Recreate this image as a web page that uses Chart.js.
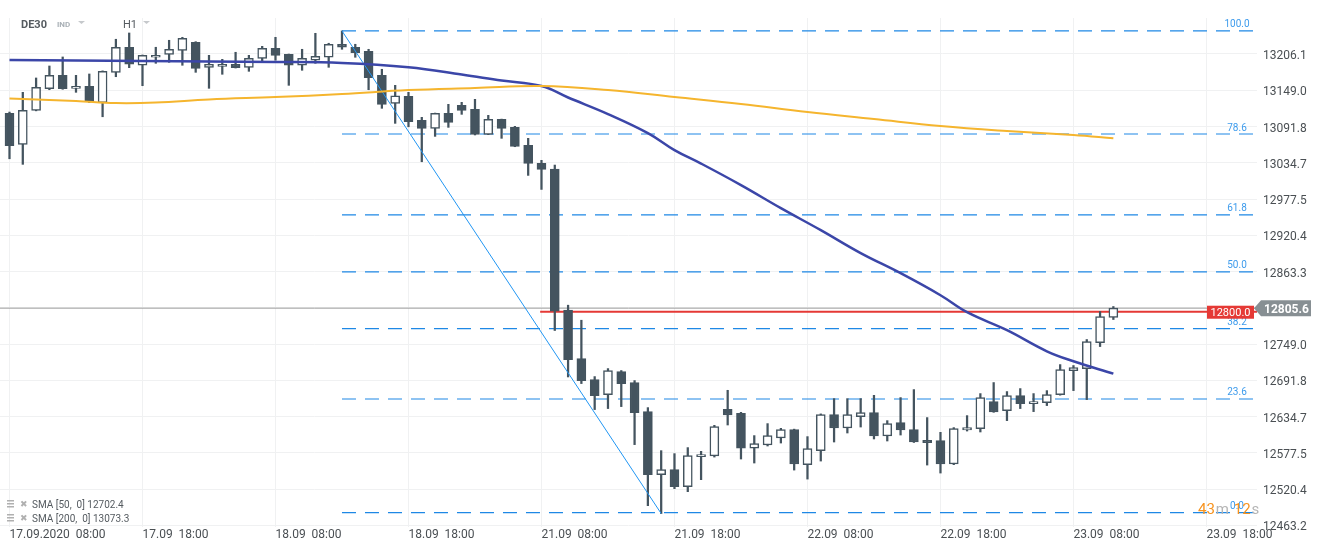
<!DOCTYPE html>
<html>
<head>
<meta charset="utf-8">
<script src="https://cdn.jsdelivr.net/npm/chart.js@4.4.1/dist/chart.umd.min.js"></script>
<style>
  html, body { margin: 0; padding: 0; background: #fff; }
  #wrap { width: 1323px; height: 551px; }
</style>
</head>
<body>
<div id="wrap"><canvas id="chart"></canvas></div>
<script>
// H1 candles, DE30, 17.09.2020 08:00 .. 23.09.2020 07:00
var opens  = [13112.6,13063.7,13117.3,13151.4,13172.5,13152.0,13155.2,13129.3,13177.2,13216.7,
              13188.3,13200.9,13205.6,13211.9,13224.5,13185.1,13186.7,13189.9,13185.1,13199.3,
              13215.1,13205.6,13188.3,13196.2,13200.9,13221.4,13216.7,13210.4,13172.5,13128.4,
              13139.4,13101.5,13088.9,13112.6,13125.2,13118.9,13079.5,13103.1,13090.5,13062.1,
              13033.7,13024.7,12802.4,12726.2,12693.1,12669.5,12705.7,12688.4,12642.6,12543.3,
              12551.2,12524.4,12571.7,12572.8,12646.3,12639.9,12585.2,12590.0,12601.0,12614.2,
              12559.0,12581.1,12637.9,12616.8,12634.8,12641.1,12604.2,12625.3,12614.2,12597.4,
              12596.9,12560.0,12613.6,12615.8,12658.4,12644.2,12667.9,12655.3,12656.8,12669.5,
              12707.3,12710.4,12751.4,12790.9];
var highs  = [13114.6,13145.7,13168.3,13187.2,13201.4,13172.5,13174.6,13179.5,13229.3,13239.2,
              13204.5,13216.7,13227.7,13232.4,13225.5,13204.0,13197.7,13208.8,13204.0,13218.2,
              13232.4,13206.0,13213.5,13238.7,13223.0,13242.4,13221.4,13213.5,13182.0,13156.7,
              13145.7,13106.3,13113.0,13126.8,13129.9,13134.7,13109.4,13103.5,13092.1,13073.2,
              13038.5,13031.1,12810.3,12786.6,12697.8,12710.4,12707.3,12691.5,12648.9,12581.1,
              12576.4,12585.9,12580.0,12621.0,12676.2,12641.5,12604.8,12623.7,12616.3,12615.0,
              12603.2,12639.0,12663.1,12663.1,12663.1,12668.3,12628.4,12664.7,12677.3,12633.2,
              12610.0,12617.4,12636.3,12671.0,12688.4,12674.2,12678.9,12671.0,12675.7,12716.7,
              12715.2,12756.2,12800.3,12808.2];
var lows   = [13041.0,13032.2,13116.5,13149.8,13150.5,13145.7,13129.5,13107.2,13170.3,13184.5,
              13156.1,13191.4,13193.0,13188.3,13177.2,13152.0,13174.1,13184.0,13178.8,13194.6,
              13196.2,13156.7,13180.4,13191.4,13185.1,13213.5,13200.9,13149.8,13120.5,13096.8,
              13091.4,13036.3,13076.3,13090.5,13111.0,13078.5,13079.0,13073.2,13060.0,13014.8,
              12992.7,12770.4,12697.2,12686.8,12645.8,12647.4,12650.5,12590.6,12494.4,12482.0,
              12521.2,12516.5,12535.4,12571.0,12621.5,12567.9,12561.6,12588.4,12593.1,12550.5,
              12536.3,12564.7,12594.7,12608.9,12618.3,12599.5,12596.3,12605.7,12594.0,12558.4,
              12545.8,12559.0,12612.0,12610.5,12641.5,12628.4,12647.4,12642.6,12652.1,12668.5,
              12675.7,12661.5,12745.1,12787.7];
var closes = [13061.5,13117.3,13153.6,13172.5,13151.4,13155.2,13130.9,13178.8,13216.7,13189.9,
              13204.0,13204.0,13213.5,13230.9,13183.5,13189.9,13189.9,13184.5,13199.3,13215.1,
              13204.0,13188.3,13199.3,13202.5,13221.4,13216.7,13208.1,13168.7,13126.8,13140.3,
              13099.3,13088.9,13112.6,13098.4,13117.3,13079.5,13103.1,13088.9,13060.5,13033.7,
              13024.3,12800.8,12724.6,12691.5,12667.9,12707.3,12686.8,12641.1,12543.3,12551.2,
              12524.4,12573.3,12574.8,12618.9,12637.3,12585.2,12592.2,12604.8,12614.2,12560.0,
              12584.3,12637.9,12616.8,12637.9,12641.1,12604.2,12623.7,12613.6,12594.7,12593.8,
              12560.0,12615.8,12617.4,12664.7,12642.0,12667.9,12655.3,12658.4,12669.5,12708.8,
              12712.0,12753.0,12792.4,12805.6];

// moving averages at some candle indexes
var sma50Idx  = [0, 10, 20, 25, 30, 34, 37, 40, 42, 45, 48, 50, 52, 55, 58, 61, 64, 67, 70, 72, 75, 78, 80, 83];
var sma50Val  = [13196.6,13195.0,13193.5,13191.9,13185.1,13173.8,13164.3,13155.6,13137.5,13111.5,13081.5,13054.7,
                 13033.4,12999.5,12963.2,12928.5,12892.3,12860.7,12826.0,12799.2,12770.9,12737.7,12722.0,12702.4];
var sma200Idx = [0, 5, 8, 11, 15, 20, 25, 30, 35, 40, 45, 50, 55, 60, 65, 70, 75, 80, 83];
var sma200Val = [13135.9,13132.0,13128.8,13129.6,13134.4,13138.3,13143.0,13149.3,13152.5,13155.6,13149.3,13138.3,
                 13127.3,13114.6,13103.6,13092.6,13084.7,13078.4,13073.3];

// fibonacci retracement drawn from candle 25 high to candle 49 low
var fibLabels = ['100.0', '78.6', '61.8', '50.0', '38.2', '23.6', '0.0'];
var fibPrices = [13242.4, 13080.0, 12952.5, 12862.9, 12773.3, 12662.5, 12483.4];
var trendIdx  = [25, 49];
var trendVal  = [13242.4, 12482.0];

var alertLevel = 12800.0;
var lastPrice = 12805.6;

var xTickIdx    = [0, 10, 20, 30, 40, 50, 60, 70, 80, 90];
var xTickLabels = ['17.09.2020  08:00', '17.09  18:00', '18.09  08:00', '18.09  18:00', '21.09  08:00',
                   '21.09  18:00', '22.09  08:00', '22.09  18:00', '23.09  08:00', '23.09  18:00'];
var yTickValues = [12463.2, 12520.4, 12577.5, 12634.7, 12691.8, 12749.0, 12806.1, 12863.3,
                   12920.4, 12977.5, 13034.7, 13091.8, 13149.0, 13206.1];
var yTickLabels = ['12463.2', '12520.4', '12577.5', '12634.7', '12691.8', '12749.0', '12806.1', '12863.3',
                   '12920.4', '12977.5', '13034.7', '13091.8', '13149.0', '13206.1'];

var X_MIN = -0.714, X_MAX = 93.8;
var CANDLE = '#44545f';

Chart.defaults.font.family = 'Roboto';

var wickData = [], bodyData = [], bodyFill = [];
for (var i = 0; i < opens.length; i++) {
    wickData.push({x: i, y: [lows[i], highs[i]]});
    bodyData.push({x: i, y: [opens[i], closes[i]]});
    bodyFill.push(closes[i] >= opens[i] ? '#ffffff' : CANDLE);
}
function pts(xs, ys) {
    return xs.map(function(x, k) { return {x: x, y: ys[k]}; });
}

var datasets = [];
fibPrices.forEach(function(p) {
    datasets.push({
        type: 'line', data: [{x: 25, y: p}, {x: 93.5, y: p}],
        borderColor: '#1e88e5', borderWidth: 1.2, borderDash: [14, 9],
        pointRadius: 0, order: 5
    });
});
datasets.push({
    type: 'line', data: [{x: X_MIN, y: lastPrice}, {x: X_MAX, y: lastPrice}],
    borderColor: '#9e9e9e', borderWidth: 1, pointRadius: 0, order: 4
});
datasets.push({
    type: 'line', data: [{x: 39.9, y: alertLevel}, {x: X_MAX, y: alertLevel}],
    borderColor: '#e53935', borderWidth: 2, pointRadius: 0, order: 4
});
datasets.push({
    type: 'bar', data: wickData, backgroundColor: CANDLE, borderWidth: 0,
    barThickness: 1.6, grouped: false, order: 3
});
datasets.push({
    type: 'bar', data: bodyData, backgroundColor: bodyFill, borderColor: CANDLE,
    borderWidth: 1.5, borderSkipped: false, barThickness: 9, minBarLength: 2,
    grouped: false, order: 2
});
datasets.push({
    type: 'line', data: pts(trendIdx, trendVal), borderColor: '#2196f3',
    borderWidth: 1, pointRadius: 0, order: 1
});
datasets.push({
    type: 'line', data: pts(sma200Idx, sma200Val), borderColor: '#f5b52e',
    borderWidth: 2, pointRadius: 0, tension: 0.4, order: 0
});
datasets.push({
    type: 'line', data: pts(sma50Idx, sma50Val), borderColor: '#3b46a8',
    borderWidth: 2.5, pointRadius: 0, tension: 0.4, order: 0
});

var overlay = {
    id: 'overlay',
    afterDraw: function(chart) {
        var ctx = chart.ctx, xs = chart.scales.x, ys = chart.scales.y;
        ctx.save();
        ctx.textBaseline = 'middle';

        // fib level labels
        ctx.font = '10px Roboto';
        ctx.fillStyle = '#3d9bec';
        ctx.textAlign = 'center';
        fibPrices.forEach(function(p, k) {
            ctx.fillText(fibLabels[k], 1237, ys.getPixelForValue(p) - 6);
        });

        // countdown
        ctx.textAlign = 'left';
        ctx.font = '15px Roboto';
        var cy = 510, cx = 1198;
        [['43', '#f7931e'], ['m', '#b5b5b5'], [' 12', '#f7931e'], ['s', '#b5b5b5']].forEach(function(t) {
            ctx.fillStyle = t[1];
            ctx.fillText(t[0], cx, cy);
            cx += ctx.measureText(t[0]).width + 1;
        });

        // red alert label
        var ry = ys.getPixelForValue(alertLevel);
        ctx.fillStyle = '#e53935';
        ctx.fillRect(1207, ry - 6, 47, 13);
        ctx.fillStyle = '#ffffff';
        ctx.font = '11px Roboto';
        ctx.textAlign = 'center';
        ctx.fillText('12800.0', 1230.5, ry + 1.5);

        // last price tag
        var py = ys.getPixelForValue(lastPrice);
        ctx.fillStyle = '#878f93';
        ctx.beginPath();
        ctx.moveTo(1254, py);
        ctx.lineTo(1261, py - 8);
        ctx.lineTo(1311, py - 8);
        ctx.lineTo(1311, py + 8);
        ctx.lineTo(1261, py + 8);
        ctx.closePath();
        ctx.fill();
        ctx.fillStyle = '#ffffff';
        ctx.font = 'bold 12px Roboto';
        ctx.textAlign = 'left';
        ctx.fillText(lastPrice.toFixed(1), 1264, py + 1.5);

        // symbol header
        ctx.fillStyle = '#555b60';
        ctx.font = 'bold 11px Roboto';
        ctx.fillText('DE30', 21, 25);
        ctx.fillStyle = '#a9b0b6';
        ctx.font = 'bold 8px Roboto';
        ctx.fillText('IND', 57, 25);
        ctx.fillStyle = '#555b60';
        ctx.font = '11px Roboto';
        ctx.fillText('H1', 123, 25);
        ctx.fillStyle = '#c6c9cc';
        [[78, 21], [143, 21]].forEach(function(t) {
            ctx.beginPath();
            ctx.moveTo(t[0], t[1]);
            ctx.lineTo(t[0] + 7, t[1]);
            ctx.lineTo(t[0] + 3.5, t[1] + 3);
            ctx.closePath();
            ctx.fill();
        });

        // indicator legend
        [['SMA [50,  0] 12702.4', 504], ['SMA [200,  0] 13073.3', 518]].forEach(function(t) {
            var y = t[1];
            ctx.fillStyle = '#b0b0b0';
            ctx.fillRect(7, y - 4, 7, 1.5);
            ctx.fillRect(7, y - 1, 7, 1.5);
            ctx.fillRect(7, y + 2, 7, 1.5);
            ctx.font = '9px DejaVu Sans';
            ctx.fillText('\u2716', 20, y + 1);
            ctx.fillStyle = '#555b60';
            ctx.font = '10px Roboto';
            ctx.fillText(t[0], 32, y + 1);
        });
        ctx.restore();
    }
};

new Chart(document.getElementById('chart'), {
    type: 'bar',
    data: {datasets: datasets},
    options: {
        responsive: true,
        maintainAspectRatio: false,
        animation: false,
        layout: {padding: {top: 18, left: 0, right: 0, bottom: 0}},
        plugins: {legend: {display: false}, tooltip: {enabled: false}},
        scales: {
            x: {
                type: 'linear', min: X_MIN, max: X_MAX, offset: false,
                grid: {color: '#f0f1f2', drawTicks: false, offset: false},
                border: {display: false},
                afterBuildTicks: function(scale) {
                    scale.ticks = xTickIdx.map(function(v) { return {value: v}; });
                },
                afterFit: function(scale) { scale.height = 24; },
                ticks: {
                    align: 'start', maxRotation: 0, autoSkip: false, padding: 1,
                    color: '#4a4f53', font: {size: 12},
                    callback: function(v) { return xTickLabels[xTickIdx.indexOf(v)]; }
                }
            },
            y: {
                position: 'right', min: 12460.8, max: 13262.8,
                grid: {color: '#f0f1f2', drawTicks: false},
                border: {display: false},
                afterBuildTicks: function(scale) {
                    scale.ticks = yTickValues.map(function(v) { return {value: v}; });
                },
                afterFit: function(scale) { scale.width = 66; },
                ticks: {
                    padding: 6, labelOffset: 2, color: '#4a4f53', font: {size: 12},
                    callback: function(v) { return yTickLabels[yTickValues.indexOf(v)]; }
                }
            }
        }
    },
    plugins: [overlay]
});
</script>
</body>
</html>
